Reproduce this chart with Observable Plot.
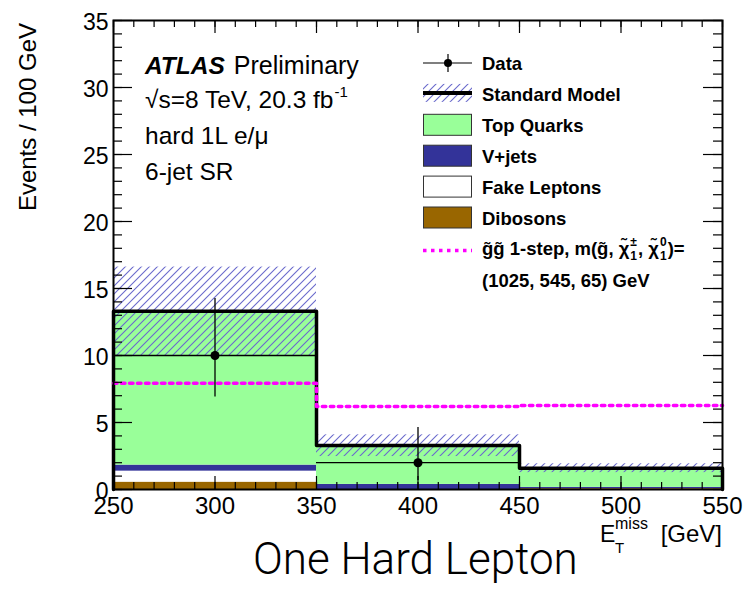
<!DOCTYPE html>
<html><head><meta charset="utf-8">
<script src="https://cdn.jsdelivr.net/npm/d3@7"></script>
<script src="https://cdn.jsdelivr.net/npm/@observablehq/plot@0.6"></script>
<style>
body{margin:0;background:#fff;}
#wrap{position:relative;width:745px;height:589px;overflow:hidden;font-family:"Liberation Sans",Arial,sans-serif;}
#chart{position:absolute;left:0;top:0;}
#title{position:absolute;left:253px;top:538px;font-family:Roboto,"Liberation Sans",sans-serif;font-weight:300;font-size:44px;line-height:43px;white-space:nowrap;color:#000;}
</style></head><body>
<div id="wrap"><div id="chart"></div><div id="title">One Hard Lepton</div></div>
<script>
// ---- data ----
const binLo = [250, 350, 450];
const binHi = [350, 450, 550];
const seriesNames = ["Dibosons", "Fake Leptons", "V+jets", "Top Quarks"];
const seriesColors = ["#996600", "#ffffff", "#333399", "#99ff99"];
const dibosons = [0.55, 0, 0.06];
const fakeLeptons = [0.82, 0, 0];
const vJets = [0.45, 0.38, 0.1];
const topQuarks = [11.48, 2.9, 1.43];
const smTotal = [13.3, 3.28, 1.59];
const smErrLow = [10.0, 2.46, 1.26];
const smErrHigh = [16.6, 4.08, 1.92];
const signal = [7.93, 6.2, 6.27];
const dataX = [300, 400];
const dataBinLo = [250, 350];
const dataBinHi = [350, 450];
const dataY = [10, 2];
const dataLow = [6.9, 0.67];
const dataHigh = [14.25, 4.63];
const xTickLabels = [250, 300, 350, 400, 450, 500, 550];
const yTickLabels = [0, 5, 10, 15, 20, 25, 30, 35];
const legendLabels = ["Data", "Standard Model", "Top Quarks", "V+jets", "Fake Leptons", "Dibosons"];

// ---- derived tables ----
const seriesValues = {"Dibosons": dibosons, "Fake Leptons": fakeLeptons, "V+jets": vJets, "Top Quarks": topQuarks};
const stackRows = seriesNames.flatMap(s => binLo.map((lo, i) => ({series: s, lo, hi: binHi[i], value: seriesValues[s][i]})));
const bandRows = binLo.map((lo, i) => ({lo, hi: binHi[i], low: smErrLow[i], high: smErrHigh[i]}));
const smLine = [{x: binLo[0], y: 0}, ...binLo.map((lo, i) => ({x: lo, y: smTotal[i]})), {x: binHi[binHi.length-1], y: smTotal[smTotal.length-1]}, {x: binHi[binHi.length-1], y: 0}];
const sigLine = [...binLo.map((lo, i) => ({x: lo, y: signal[i]})), {x: binHi[binHi.length-1], y: signal[signal.length-1]}];
const dataRows = dataX.map((x, i) => ({x, y: dataY[i], lo: dataLow[i], hi: dataHigh[i], x1: dataBinLo[i], x2: dataBinHi[i]}));
const xMinor = d3.range(250, 551, 10);
const yMinor = d3.range(0, 35.01, 1);

const W = 745, H = 556, mL = 113, mR = 23, mT = 20, mB = 67;
const fH = H - mT - mB, fW = W - mL - mR;

const plot = Plot.plot({
  width: W, height: H,
  marginLeft: mL, marginRight: mR, marginTop: mT, marginBottom: mB,
  style: {fontFamily: "'Liberation Sans', Arial, sans-serif", background: "white", overflow: "visible"},
  x: {domain: [250, 550], axis: null},
  y: {domain: [0, 35], axis: null},
  color: {domain: seriesNames, range: seriesColors},
  marks: [
    Plot.rectY(stackRows, {x1: "lo", x2: "hi", y: "value", z: "series", order: seriesNames, fill: "series"}),
    Plot.rect(bandRows, {x1: "lo", x2: "hi", y1: "low", y2: "high", fill: "url(#smHatch)"}),
    Plot.line(smLine, {x: "x", y: "y", curve: "step-after", stroke: "black", strokeWidth: 3.5}),
    Plot.line(sigLine, {x: "x", y: "y", curve: "step-after", stroke: "#ff00ff", strokeWidth: 3.5, strokeDasharray: "3.5,4.5"}),
    Plot.ruleY(dataRows, {y: "y", x1: "x1", x2: "x2", stroke: "black", strokeWidth: 1.3}),
    Plot.ruleX(dataRows, {x: "x", y1: "lo", y2: "hi", stroke: "black", strokeWidth: 1.3}),
    Plot.dot(dataRows, {x: "x", y: "y", r: 4.5, fill: "black", stroke: "none"}),
    // ticks (inward, on all four sides)
    Plot.tickX(xMinor, {x: d => d, insetTop: fH - 7, stroke: "black", strokeWidth: 1.2}),
    Plot.tickX(xMinor, {x: d => d, insetBottom: fH - 7, stroke: "black", strokeWidth: 1.2}),
    Plot.tickX(xTickLabels, {x: d => d, insetTop: fH - 13, stroke: "black", strokeWidth: 1.2}),
    Plot.tickX(xTickLabels, {x: d => d, insetBottom: fH - 13, stroke: "black", strokeWidth: 1.2}),
    Plot.tickY(yMinor, {y: d => d, insetRight: fW - 9, stroke: "black", strokeWidth: 1.2}),
    Plot.tickY(yMinor, {y: d => d, insetLeft: fW - 9, stroke: "black", strokeWidth: 1.2}),
    Plot.tickY(yTickLabels, {y: d => d, insetRight: fW - 19, stroke: "black", strokeWidth: 1.2}),
    Plot.tickY(yTickLabels, {y: d => d, insetLeft: fW - 19, stroke: "black", strokeWidth: 1.2}),
    Plot.frame({stroke: "black", strokeWidth: 2}),
    Plot.text(xTickLabels, {x: d => d, text: d => String(d), frameAnchor: "bottom", lineAnchor: "top", dy: 7, fontSize: 24}),
    Plot.text(yTickLabels, {y: d => d, text: d => String(d), frameAnchor: "left", textAnchor: "end", dx: -5, dy: 2, fontSize: 23})
  ]
});
document.getElementById("chart").appendChild(plot);

// ---- defs: hatch pattern ----
const svg = d3.select(plot);
const defs = svg.insert("defs", ":first-child");
const pat = defs.append("pattern").attr("id", "smHatch").attr("patternUnits", "userSpaceOnUse").attr("width", 8).attr("height", 8);
pat.append("path").attr("d", "M-2,2 L2,-2 M0,8 L8,0 M6,10 L10,6").attr("stroke", "#6a6acc").attr("stroke-width", 1.1).attr("fill", "none");

// ---- helper for sequential text pieces ----
const ann = svg.append("g").attr("font-family", "'Liberation Sans', Arial, sans-serif").attr("fill", "black").attr("text-anchor", "start");
function piece(x, y, str, opts = {}) {
  const t = ann.append("text").attr("x", x).attr("y", y).text(str)
    .attr("font-size", opts.size || 24)
    .attr("font-weight", opts.weight || "normal")
    .attr("font-style", opts.style || "normal")
    .attr("text-anchor", opts.anchor || "start");
  return t.node().getComputedTextLength();
}

// ---- annotations ----
let x = 145;
x += piece(x, 74, "ATLAS", {weight: "bold", style: "italic", size: 24.5});
piece(x + 9, 74, "Preliminary", {size: 25});
x = 145;
x += piece(x, 108, "\u221As=8 TeV, 20.3 fb", {size: 24.5});
piece(x + 1, 97, "-1", {size: 15});
piece(145, 144, "hard 1L e/\u03BC", {size: 24.5});
piece(145, 180, "6-jet SR", {size: 24.5});

// y axis title
ann.append("text").attr("transform", "translate(36,23) rotate(-90)").attr("text-anchor", "end")
  .attr("font-size", 24).text("Events / 100 GeV");

// x axis title
piece(722, 542, "[GeV]", {size: 24, anchor: "end"});
piece(600, 542, "E", {size: 23});
piece(615, 529, "miss", {size: 16});
piece(615, 553, "T", {size: 15});

// ---- legend ----
const lg = svg.append("g");
const lx0 = 423, lx1 = 472, tx = 482;
const base = i => 70 + i * 30.9;
legendLabels.forEach((lab, i) => {
  piece(tx, base(i), lab, {weight: "bold", size: 18.5});
});
// Data symbol
let cy = base(0) - 7;
lg.append("line").attr("x1", lx0).attr("x2", lx1).attr("y1", cy).attr("y2", cy).attr("stroke", "black").attr("stroke-width", 1.2);
lg.append("line").attr("x1", 448).attr("x2", 448).attr("y1", cy - 9).attr("y2", cy + 9).attr("stroke", "black").attr("stroke-width", 1.2);
lg.append("circle").attr("cx", 448).attr("cy", cy).attr("r", 4).attr("fill", "black");
// SM symbol
cy = base(1) - 8;
lg.append("rect").attr("x", lx0).attr("y", cy - 9).attr("width", lx1 - lx0).attr("height", 18).attr("fill", "url(#smHatch)");
lg.append("line").attr("x1", lx0).attr("x2", lx1).attr("y1", cy).attr("y2", cy).attr("stroke", "black").attr("stroke-width", 4);
// boxes
["Top Quarks", "V+jets", "Fake Leptons", "Dibosons"].forEach((s, k) => {
  const b = base(k + 2);
  lg.append("rect").attr("x", lx0 + 0.5).attr("y", b - 17.5).attr("width", lx1 - lx0 - 1).attr("height", 21)
    .attr("fill", seriesColors[seriesNames.indexOf(s)]).attr("stroke", "#333").attr("stroke-width", 1);
});
// signal
cy = base(6) - 5;
lg.append("line").attr("x1", lx0).attr("x2", lx1).attr("y1", cy).attr("y2", cy).attr("stroke", "#ff00ff").attr("stroke-width", 3.5).attr("stroke-dasharray", "3.5,4.5");
let sx = tx; const sb = base(6), B = {weight: "bold", size: 18.5};
sx += piece(sx, sb, "g\u0303g\u0303 1-step, m(g\u0303, \u03C7\u0303", B);
let w1 = piece(sx + 1, sb + 5, "1", {weight: "bold", size: 12});
let w2 = piece(sx + 1, sb - 9, "\u00B1", {weight: "bold", size: 12});
sx += Math.max(w1, w2) + 2;
sx += piece(sx, sb, ", \u03C7\u0303", B);
w1 = piece(sx + 1, sb + 5, "1", {weight: "bold", size: 12});
w2 = piece(sx + 1, sb - 9, "0", {weight: "bold", size: 12});
sx += Math.max(w1, w2) + 2;
piece(sx, sb, ")=", B);
piece(tx, base(7) + 1, "(1025, 545, 65) GeV", B);
</script></body></html>
